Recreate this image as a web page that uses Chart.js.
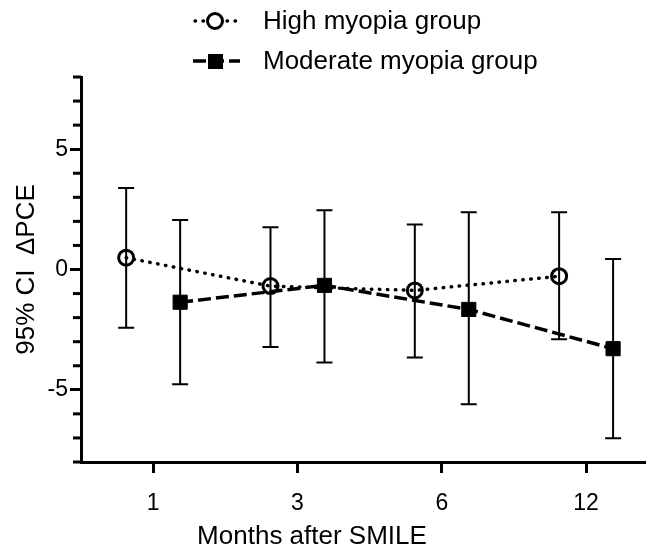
<!DOCTYPE html>
<html>
<head>
<meta charset="utf-8">
<script src="https://cdn.jsdelivr.net/npm/chart.js@4.4.1/dist/chart.umd.min.js"></script>
<style>
  html, body { margin: 0; padding: 0; background: #fff; }
  #wrap { width: 646px; height: 554px; }
</style>
</head>
<body>
<div id="wrap"><canvas id="chart" width="646" height="554"></canvas></div>
<script>
// --- data ---
const months = ["1", "3", "6", "12"];
const seriesNames = ["High myopia group", "Moderate myopia group"];

// high myopia: mean and 95% CI per month
const highMean = [0.49, -0.69, -0.87, -0.28];
const highLo = [-2.42, -3.22, -3.66, -2.9];
const highHi = [3.39, 1.76, 1.87, 2.38];

// moderate myopia
const modMean = [-1.36, -0.66, -1.66, -3.29];
const modLo = [-4.77, -3.87, -5.6, -7.01];
const modHi = [2.06, 2.46, 2.38, 0.44];

const yTicksLabelled = [-5, 0, 5];

// groups are drawn side by side around each month tick
const DODGE = 0.187;

const FONT = "'Liberation Sans', Arial, sans-serif";
Chart.defaults.font.family = FONT;
Chart.defaults.color = "#000";

function punten(ys, shift) {
  return ys.map((y, i) => ({ x: i + shift, y }));
}

// error bars + minor ticks + legend + x title
const extraPlugin = {
  id: "extra",
  beforeDatasetsDraw(chart) {
    const ctx = chart.ctx;
    const xs = chart.scales.x;
    const ys = chart.scales.y;
    const sets = [
      [-DODGE, highLo, highHi],
      [DODGE, modLo, modHi],
    ];
    ctx.save();
    ctx.strokeStyle = "#000";
    ctx.lineWidth = 2;
    sets.forEach(([shift, lo, hi]) => {
      lo.forEach((_, i) => {
        const cx = xs.getPixelForValue(i + shift);
        const yl = ys.getPixelForValue(lo[i]);
        const yh = ys.getPixelForValue(hi[i]);
        ctx.beginPath();
        ctx.moveTo(cx, yl); ctx.lineTo(cx, yh);
        ctx.moveTo(cx - 8, yl); ctx.lineTo(cx + 8, yl);
        ctx.moveTo(cx - 8, yh); ctx.lineTo(cx + 8, yh);
        ctx.stroke();
      });
    });
    ctx.restore();
  },
  afterDraw(chart) {
    const ctx = chart.ctx;
    const ys = chart.scales.y;
    const left = chart.chartArea.left;
    ctx.save();
    // minor y ticks
    ctx.strokeStyle = "#000";
    ctx.lineWidth = 3;
    for (let v = ys.min; v <= ys.max; v++) {
      if (v % 5 === 0) continue;
      const y = ys.getPixelForValue(v);
      ctx.beginPath();
      ctx.moveTo(left - 8, y);
      ctx.lineTo(left, y);
      ctx.stroke();
    }

    // x axis title
    ctx.fillStyle = "#000";
    ctx.font = "26px " + FONT;
    ctx.textAlign = "center";
    ctx.textBaseline = "middle";
    ctx.fillText("Months after SMILE", 312, 537);

    // legend
    ctx.textAlign = "left";
    ctx.lineWidth = 3.5;
    // high
    ctx.setLineDash([0.5, 7.5]);
    ctx.lineCap = "round";
    ctx.beginPath();
    ctx.moveTo(195, 21); ctx.lineTo(237, 21);
    ctx.stroke();
    ctx.setLineDash([]);
    ctx.lineWidth = 3;
    ctx.fillStyle = "#fff";
    ctx.beginPath();
    ctx.arc(215, 21, 7.5, 0, Math.PI * 2);
    ctx.fill();
    ctx.stroke();
    ctx.fillStyle = "#000";
    ctx.fillText(seriesNames[0], 263, 22);
    // moderate
    ctx.lineCap = "butt";
    ctx.lineWidth = 3.5;
    ctx.setLineDash([13, 5]);
    ctx.beginPath();
    ctx.moveTo(193, 61); ctx.lineTo(240, 61);
    ctx.stroke();
    ctx.setLineDash([]);
    ctx.fillRect(208, 54, 15, 15);
    ctx.fillText(seriesNames[1], 263, 62);
    ctx.restore();
  },
};

new Chart(document.getElementById("chart"), {
  type: "line",
  data: {
    datasets: [
      {
        label: seriesNames[0],
        data: punten(highMean, -DODGE),
        borderColor: "#000",
        borderWidth: 3.5,
        borderDash: [0.5, 7.5],
        borderCapStyle: "round",
        pointStyle: "circle",
        pointRadius: 7.5,
        pointBorderWidth: 3,
        pointBackgroundColor: "rgba(0,0,0,0)",
        pointBorderColor: "#000",
        tension: 0,
      },
      {
        label: seriesNames[1],
        data: punten(modMean, DODGE),
        borderColor: "#000",
        borderWidth: 3.5,
        borderDash: [13, 5],
        pointStyle: "rect",
        pointRadius: 10,
        pointBorderWidth: 1,
        pointBackgroundColor: "#000",
        pointBorderColor: "#000",
        tension: 0,
      },
    ],
  },
  options: {
    responsive: false,
    animation: false,
    layout: { autoPadding: false, padding: { top: 77, left: 0, right: 0, bottom: 0 } },
    plugins: {
      legend: { display: false },
      tooltip: { enabled: false },
    },
    scales: {
      x: {
        type: "linear",
        min: -0.5,
        max: 3.415,
        afterFit: (s) => {
          s.height = 92;
          s.paddingLeft = 0;
          s.paddingRight = 0;
        },
        afterBuildTicks: (s) => {
          s.ticks = months.map((_, i) => ({ value: i }));
        },
        ticks: {
          font: { size: 23 },
          padding: 17,
          maxRotation: 0,
          autoSkip: false,
          callback: (v) => months[v] ?? "",
        },
        grid: {
          drawOnChartArea: false,
          drawTicks: true,
          tickLength: 11,
          tickWidth: 3,
          tickColor: "#000",
        },
        border: { color: "#000", width: 3 },
      },
      y: {
        min: -8,
        max: 8,
        afterFit: (s) => {
          s.width = 81;
          s.paddingTop = 0;
          s.paddingBottom = 0;
        },
        ticks: {
          stepSize: 1,
          font: { size: 23 },
          padding: 2,
          autoSkip: false,
          callback: (v) => (yTicksLabelled.includes(v) ? String(v) : ""),
        },
        grid: {
          drawOnChartArea: false,
          drawTicks: true,
          tickLength: 11,
          tickWidth: 3,
          tickColor: (c) =>
            c.tick && yTicksLabelled.includes(c.tick.value) ? "#000" : "rgba(0,0,0,0)",
        },
        border: { color: "#000", width: 3 },
        title: {
          display: true,
          text: "95% CI  \u0394PCE",
          font: { size: 26 },
          padding: { top: 11, bottom: 0 },
        },
      },
    },
  },
  plugins: [extraPlugin],
});
</script>
</body>
</html>
